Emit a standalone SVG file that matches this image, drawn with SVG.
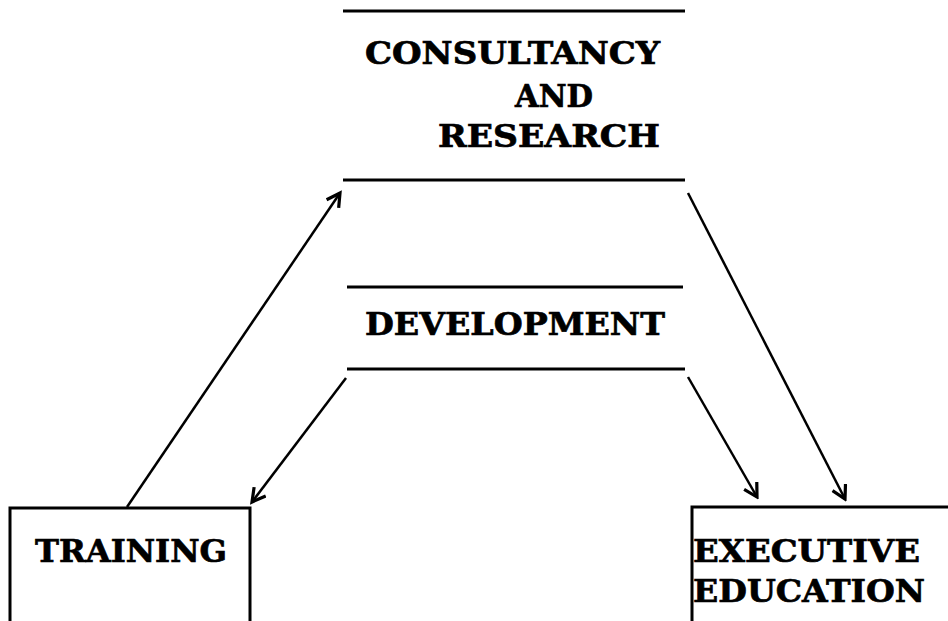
<svg xmlns="http://www.w3.org/2000/svg" width="948" height="621" viewBox="0 0 948 621">
<defs>
<style>
.t{font-family:"DejaVu Serif","Liberation Serif",serif;font-weight:bold;font-size:32px;fill:#000;stroke:#000;stroke-width:0.7}
.hl{stroke:#000;stroke-width:3;fill:none}
.box{stroke:#000;stroke-width:3;fill:#fff}
.c{stroke:#000;stroke-width:2.5;fill:none;marker-end:url(#ah)}
</style>
<marker id="ah" viewBox="0 0 12 12" refX="10" refY="6" markerWidth="7" markerHeight="7" orient="auto" markerUnits="strokeWidth">
<path d="M1,1 L10,6 L1,11" fill="none" stroke="#000" stroke-width="2.2" stroke-linejoin="miter"/>
</marker>
</defs>
<rect width="948" height="621" fill="#fff"/>
<g id="consultancy">
<line class="hl" x1="343" y1="11" x2="685" y2="11"/>
<line class="hl" x1="343" y1="180" x2="685" y2="180"/>
<text class="t" x="365" y="64" textLength="295" lengthAdjust="spacingAndGlyphs">CONSULTANCY</text>
<text class="t" x="515" y="107" textLength="78" lengthAdjust="spacingAndGlyphs">AND</text>
<text class="t" x="438" y="147" textLength="222" lengthAdjust="spacingAndGlyphs">RESEARCH</text>
</g>
<g id="development">
<line class="hl" x1="347" y1="287" x2="683" y2="287"/>
<line class="hl" x1="347" y1="369" x2="685" y2="369"/>
<text class="t" x="365" y="335" textLength="300" lengthAdjust="spacingAndGlyphs">DEVELOPMENT</text>
</g>
<g id="training">
<rect class="box" x="10" y="508" width="240" height="130"/>
<text class="t" x="35" y="562" textLength="192" lengthAdjust="spacingAndGlyphs">TRAINING</text>
</g>
<g id="executive">
<rect class="box" x="692" y="507" width="300" height="130"/>
<text class="t" x="693" y="562" textLength="227" lengthAdjust="spacingAndGlyphs">EXECUTIVE</text>
<text class="t" x="693" y="602" textLength="232" lengthAdjust="spacingAndGlyphs">EDUCATION</text>
</g>
<g id="connectors">
<line class="c" x1="127" y1="507" x2="340" y2="193"/>
<line class="c" x1="346" y1="378" x2="252" y2="502"/>
<line class="c" x1="688" y1="193" x2="845" y2="499"/>
<line class="c" x1="688" y1="377" x2="757" y2="497"/>
</g>
</svg>
